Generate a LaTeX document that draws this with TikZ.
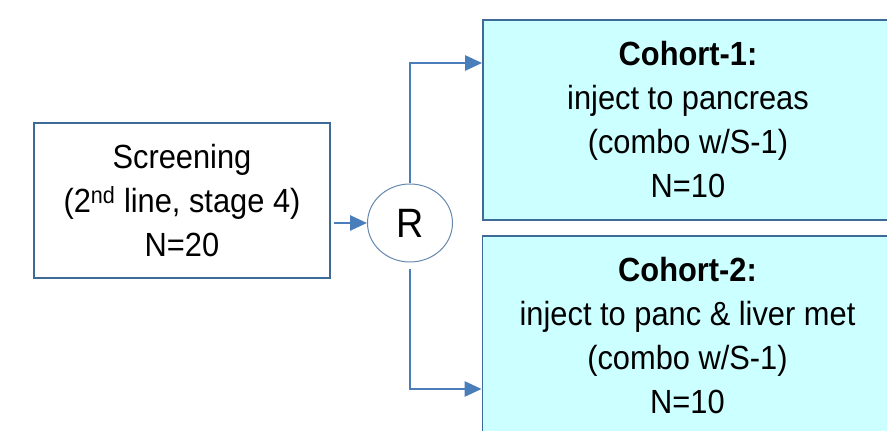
\documentclass[tikz,border=0pt]{standalone}
\usepackage{fontspec}
\setmainfont{Liberation Sans}[FakeStretch=0.92]
\usetikzlibrary{arrows.meta,shapes,positioning,calc}
\usepackage{xcolor}
\definecolor{boxline}{HTML}{3E6A98}
\definecolor{flowblue}{HTML}{4A7EBB}
\definecolor{cohortfill}{HTML}{CCFFFF}

\begin{document}
\begin{tikzpicture}[x=1pt, y=1pt, font=\fontsize{33.5}{44}\selectfont,
  >={Triangle[length=17pt,width=15pt]},
  scrbox/.style={draw=boxline, line width=1.8pt, minimum width=296pt, minimum height=155pt, align=center, inner sep=0pt},
  cohortbox/.style={draw=boxline, fill=cohortfill, line width=1.8pt, minimum width=410pt, minimum height=200pt, align=center, inner sep=0pt},
  randnode/.style={draw=boxline!80, ellipse, line width=1pt, minimum width=85pt, minimum height=78pt, inner sep=0pt, font=\fontsize{41}{44}\selectfont},
  flow/.style={->, draw=flowblue, line width=2.6pt}]
\clip (0,0) rectangle (887,431);
% boxes
\node[scrbox] (scr) at (182,230.5) {Screening\\(2\textsuperscript{nd} line, stage 4)\\N=20};
\node[randnode] (R) at (410,208) {R};
\node[cohortbox] (c1) at (688,311) {\textbf{Cohort-1:}\\inject to pancreas\\(combo w/S-1)\\N=10};
\node[cohortbox] (c2) at (687.5,95) {\textbf{Cohort-2:}\\inject to panc \& liver met\\(combo w/S-1)\\N=10};
% arrows
\draw[flow, shorten <=3pt] (scr.east |- R.west) -- (R.west);
\draw[flow] (R.north) |- ([yshift=57pt]c1.west);
\draw[flow, shorten <=7pt] (R.south) |- ([yshift=-53pt]c2.west);
\end{tikzpicture}
\end{document}
